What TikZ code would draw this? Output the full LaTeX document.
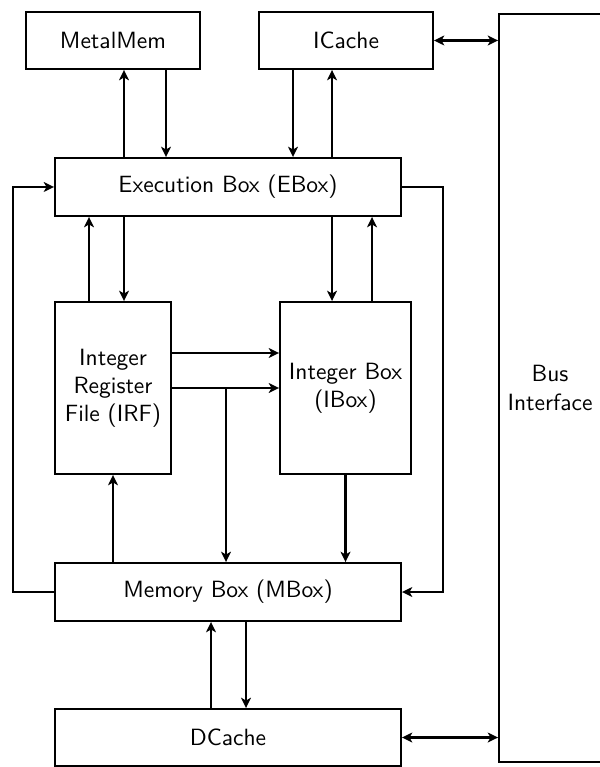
\documentclass[tikz,border=0pt]{standalone}
\usetikzlibrary{arrows.meta}
\begin{document}
\begin{tikzpicture}[x=0.4255pt,y=-0.4255pt,
  font=\sffamily,
  blk/.style 2 args={draw,line width=0.8pt,inner sep=0pt,align=center,
    minimum width=#1*0.4255pt,minimum height=#2*0.4255pt},
  tip/.tip={Stealth[length=4.4pt,width=4.2pt,inset=1.2pt]},
  arr/.style={line width=1.1pt,-tip},
  darr/.style={line width=1.1pt,tip-tip}]
\useasboundingbox (0,0) rectangle (599,767);
% blocks
\node[blk={174}{57}] (mm) at (113,40.5) {MetalMem};
\node[blk={174}{57}] (ic) at (346,40.5) {ICache};
\node[blk={346}{58}] (eb) at (228,187) {Execution Box (EBox)};
\node[blk={116}{172}] (irf) at (113,388) {Integer\\Register\\File (IRF)};
\node[blk={131}{172}] (ib) at (345.5,388) {Integer Box\\(IBox)};
\node[blk={346}{58}] (mb) at (228,592) {Memory Box (MBox)};
\node[blk={346}{57}] (dc) at (228,737.5) {DCache};
\node[blk={102}{748}] (bus) at (550,388) {Bus\\Interface};
% helper coordinates
\coordinate (c13) at (13,0);
\coordinate (c89) at (89,0);
\coordinate (c124) at (124,0);
\coordinate (c166) at (166,0);
\coordinate (c211) at (211,0);
\coordinate (c226) at (226,0);
\coordinate (c246) at (246,0);
\coordinate (c293) at (293,0);
\coordinate (c332) at (332,0);
\coordinate (c372) at (372,0);
\coordinate (c443) at (443,0);
\coordinate (r353) at (0,353);
% MetalMem <-> EBox
\draw[arr] (eb.north -| c124) -- (mm.south -| c124);
\draw[arr] (mm.south -| c166) -- (eb.north -| c166);
% ICache <-> EBox
\draw[arr] (ic.south -| c293) -- (eb.north -| c293);
\draw[arr] (eb.north -| c332) -- (ic.south -| c332);
% ICache <-> Bus
\draw[darr] (ic.east) -- (ic.east -| bus.west);
% EBox <-> IRF
\draw[arr] (irf.north -| c89) -- (eb.south -| c89);
\draw[arr] (eb.south -| c124) -- (irf.north -| c124);
% EBox <-> IBox
\draw[arr] (eb.south -| c332) -- (ib.north -| c332);
\draw[arr] (ib.north -| c372) -- (eb.south -| c372);
% IRF -> IBox
\draw[arr] (irf.east |- r353) -- (ib.west |- r353);
\draw[arr] (irf.east) -- (ib.west);
\draw[arr] (c226 |- irf.east) -- (mb.north -| c226);
% MBox -> IRF, IBox -> MBox
\draw[arr] (mb.north -| irf.south) -- (irf.south);
\draw[arr] (ib.south) -- (mb.north -| ib.south);
% feedback loops
\draw[arr] (mb.west) -- (mb.west -| c13) -- (eb.west -| c13) -- (eb.west);
\draw[arr] (eb.east) -- (eb.east -| c443) -- (mb.east -| c443) -- (mb.east);
% MBox <-> DCache
\draw[arr] (dc.north -| c211) -- (mb.south -| c211);
\draw[arr] (mb.south -| c246) -- (dc.north -| c246);
% DCache <-> Bus
\draw[darr] (dc.east) -- (dc.east -| bus.west);
\end{tikzpicture}
\end{document}
